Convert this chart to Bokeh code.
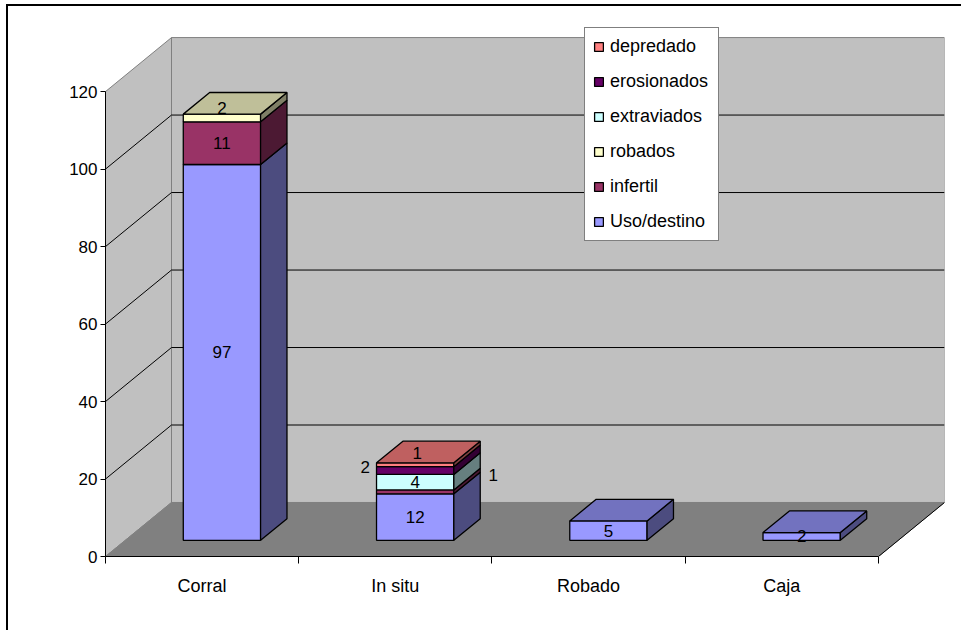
from bokeh.plotting import figure
from bokeh.models import FixedTicker, ColumnDataSource, Legend, LegendItem, Range1d
from bokeh.embed import file_html
from bokeh.resources import INLINE
from bokeh.core.properties import value

# ---------------- data ----------------
categories = ["Corral", "In situ", "Robado", "Caja"]
series_names = ["Uso/destino", "infertil", "robados", "extraviados", "erosionados", "depredado"]
uso_destino = [97, 12, 5, 2]
infertil = [11, 1, 0, 0]
robados = [2, 0, 0, 0]
extraviados = [0, 4, 0, 0]
erosionados = [0, 2, 0, 0]
depredado = [0, 1, 0, 0]
y_ticks = [0, 20, 40, 60, 80, 100, 120]

# ---------------- style ----------------
series_colors = ["#9999FF", "#993366", "#FFFFCC", "#CCFFFF", "#660066", "#FF8080"]
FONT = "Liberation Sans"
FS_NUM = "17px"
FS_TXT = "18px"
DX = 0.3416      # depth of the 3D box in category units
DY = 13.94       # depth of the 3D box in value units
TOP_PAD = 2.6    # empty space above the back wall (value units)
BAR_HALF = 0.2
FRONT, BACK = 0.3, 0.7
# pixel nudges for a few crowded data labels: (category, series) -> (dx, dy)
label_nudge = {(0, 2): (0, -10), (1, 5): (2, -12), (1, 4): (-50, -4), (1, 1): (78, -17)}


def shade(h, f):
    r, g, b = int(h[1:3], 16), int(h[3:5], 16), int(h[5:7], 16)
    return "#%02x%02x%02x" % (int(r * f), int(g * f), int(b * f))


values = [uso_destino, infertil, robados, extraviados, erosionados, depredado]
ncat = len(categories)
totals = [sum(v[i] for v in values) for i in range(ncat)]
ymax = y_ticks[-1]

p = figure(width=955, height=626, output_backend="svg", toolbar_location=None,
           x_range=Range1d(0, ncat + DX), y_range=Range1d(0, ymax + DY + TOP_PAD),
           min_border_left=97, min_border_right=19, min_border_top=21, min_border_bottom=76,
           background_fill_color="white", border_fill_color="white")
p.outline_line_color = None
p.xgrid.visible = False
p.ygrid.visible = False
p.styles = {"margin-left": "6px", "margin-top": "4px",
            "border-left": "2px solid black", "border-top": "2px solid black"}

# ---- walls and floor ----
p.patch([0, DX, DX, 0], [0, DY, ymax + DY, ymax], fill_color="#C0C0C0",
        line_color="#808080", line_width=1)
p.quad(left=[DX], right=[ncat + DX], bottom=[DY], top=[ymax + DY],
       fill_color="#C0C0C0", line_color="#808080", line_width=1)
p.patch([0, ncat, ncat + DX, DX], [0, 0, DY, DY], fill_color="#808080",
        line_color="#808080", line_width=1)
p.line([ncat, ncat + DX], [0, DY], line_color="black", line_width=1)

g = [t for t in y_ticks if 0 < t < ymax]
p.segment(x0=[DX] * len(g), y0=[t + DY for t in g], x1=[ncat + DX] * len(g),
          y1=[t + DY for t in g], line_color="black", line_width=1)
p.segment(x0=[0] * len(g), y0=g, x1=[DX] * len(g), y1=[t + DY for t in g],
          line_color="black", line_width=1)

# ---- stacked 3D bars ----
cum = [0] * ncat
legend_renderers = []
lab = dict(x=[], y=[], text=[], dx=[], dy=[])
fx, fy = FRONT * DX, FRONT * DY
ddx, ddy = (BACK - FRONT) * DX, (BACK - FRONT) * DY
for s, vals in enumerate(values):
    fr = dict(left=[], right=[], bottom=[], top=[])
    sd = dict(xs=[], ys=[])
    tp = dict(xs=[], ys=[])
    for i, v in enumerate(vals):
        if v <= 0:
            continue
        b = cum[i]
        t = b + v
        cum[i] = t
        c = i + 0.5
        x0, x1 = c - BAR_HALF + fx, c + BAR_HALF + fx
        y0, y1 = b + fy, t + fy
        fr["left"].append(x0); fr["right"].append(x1)
        fr["bottom"].append(y0); fr["top"].append(y1)
        sd["xs"].append([x1, x1 + ddx, x1 + ddx, x1])
        sd["ys"].append([y0, y0 + ddy, y1 + ddy, y1])
        if t == totals[i]:
            tp["xs"].append([x0, x1, x1 + ddx, x0 + ddx])
            tp["ys"].append([y1, y1, y1 + ddy, y1 + ddy])
        nx, ny = label_nudge.get((i, s), (0, 0))
        lab["x"].append(c + fx); lab["y"].append((y0 + y1) / 2)
        lab["text"].append(str(v)); lab["dx"].append(nx); lab["dy"].append(ny)
    col = series_colors[s]
    r = p.quad(source=ColumnDataSource(fr), left="left", right="right", bottom="bottom", top="top",
               fill_color=col, line_color="black", line_width=1.3)
    legend_renderers.append(r)
    p.patches(source=ColumnDataSource(sd), xs="xs", ys="ys", fill_color=shade(col, 0.5),
              line_color="black", line_width=1.3)
    if tp["xs"]:
        p.patches(source=ColumnDataSource(tp), xs="xs", ys="ys", fill_color=shade(col, 0.75),
                  line_color="black", line_width=1.3)

p.text(source=ColumnDataSource(lab), x="x", y="y", text="text", x_offset="dx", y_offset="dy",
       text_align="center", text_baseline="middle", text_font=value(FONT),
       text_font_size=FS_NUM, text_color="black")

# ---- axes ----
ya = p.yaxis[0]
ya.ticker = FixedTicker(ticks=y_ticks)
ya.bounds = (0, ymax)
ya.major_tick_out = 5
ya.major_tick_in = 0
ya.minor_tick_out = 0
ya.minor_tick_in = 0
ya.major_label_standoff = 3
ya.axis_line_color = "black"
ya.major_tick_line_color = "black"
ya.major_label_text_font = FONT
ya.major_label_text_font_size = FS_NUM
ya.major_label_text_color = "black"

xa = p.xaxis[0]
xa.ticker = FixedTicker(ticks=[i + 0.5 for i in range(ncat)], minor_ticks=list(range(ncat + 1)))
xa.major_label_overrides = {i + 0.5: categories[i] for i in range(ncat)}
xa.bounds = (0, ncat)
xa.major_tick_out = 0
xa.major_tick_in = 0
xa.minor_tick_out = 7
xa.minor_tick_in = 0
xa.minor_tick_line_color = "black"
xa.major_label_standoff = 12
xa.axis_line_color = "black"
xa.major_label_text_font = FONT
xa.major_label_text_font_size = FS_TXT
xa.major_label_text_color = "black"

# ---- legend ----
items = [LegendItem(label=series_names[s], renderers=[legend_renderers[s]])
         for s in reversed(range(len(series_names)))]
legend = Legend(items=items, location=(479, 315), border_line_color="black",
                border_line_width=1, background_fill_color="white", background_fill_alpha=1,
                label_text_font=FONT, label_text_font_size=FS_TXT, label_text_color="black",
                glyph_width=11, glyph_height=11, label_height=20, spacing=14,
                padding=8, margin=0, label_standoff=6, label_width=100)
p.add_layout(legend, "center")

open("out.html", "w").write(file_html(p, INLINE))
